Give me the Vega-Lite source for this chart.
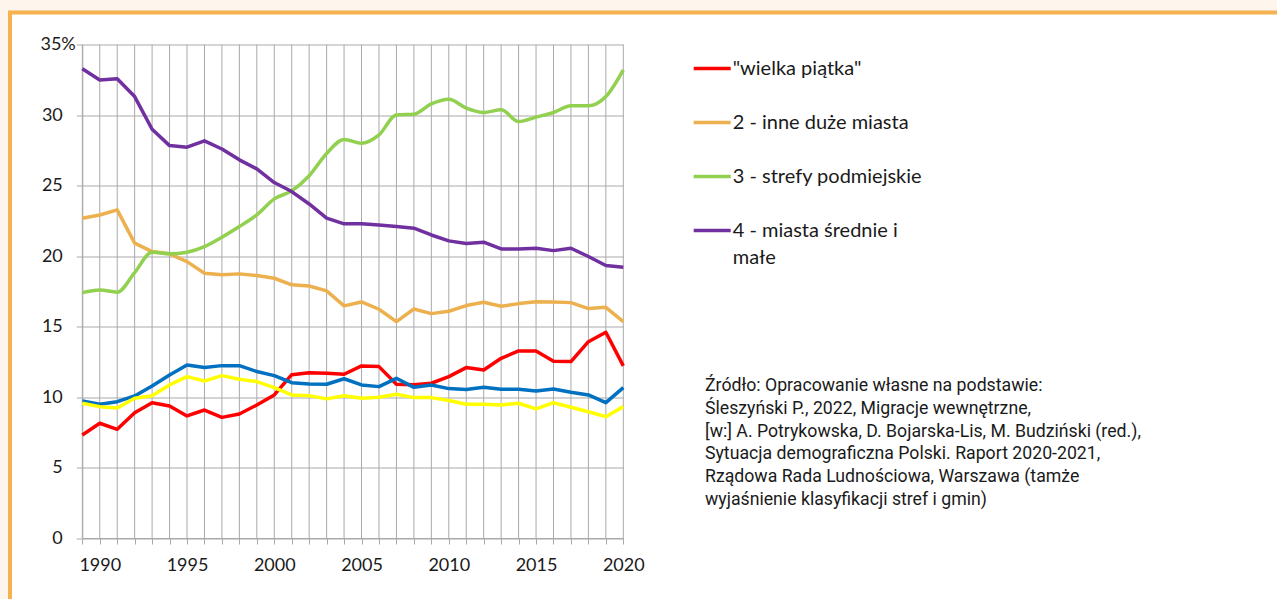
{
  "$schema": "https://vega.github.io/schema/vega-lite/v6.json",
  "width": 1272,
  "height": 592,
  "autosize": {"type": "none"},
  "padding": {"left": 10, "top": 12.5, "right": 0, "bottom": 0},
  "background": "#fef6ec",
  "config": {
    "view": {"fill": "white", "stroke": "#f6b24f", "strokeWidth": 4},
    "font": "Lato",
    "axis": {
      "gridColor": "#a9a9a9",
      "gridWidth": 1,
      "domainColor": "#a9a9a9",
      "domainWidth": 1,
      "tickColor": "#a9a9a9",
      "tickWidth": 1,
      "tickSize": 6,
      "labelFont": "Lato",
      "labelFontSize": 18,
      "labelColor": "#1a1a1a",
      "labelOverlap": false,
      "labelFlush": false
    }
  },
  "title": {
    "text": [
      "Źródło: Opracowanie własne na podstawie:",
      "Śleszyński P., 2022, Migracje wewnętrzne,",
      "[w:] A. Potrykowska, D. Bojarska-Lis, M. Budziński (red.),",
      "Sytuacja demograficzna Polski. Raport 2020-2021,",
      "Rządowa Rada Ludnościowa, Warszawa (tamże",
      "wyjaśnienie klasyfikacji stref i gmin)"
    ],
    "orient": "top",
    "anchor": "start",
    "frame": "group",
    "offset": 0,
    "baseline": "top",
    "align": "left",
    "dx": 695,
    "dy": 496,
    "font": "Roboto",
    "fontSize": 17.7,
    "fontWeight": "normal",
    "color": "#1a1a1a",
    "lineHeight": 22.7
  },
  "data": {
    "values": [
      {"year": 1989, "series": "\"wielka piątka\"", "value": 7.31},
      {"year": 1990, "series": "\"wielka piątka\"", "value": 8.14},
      {"year": 1991, "series": "\"wielka piątka\"", "value": 7.71},
      {"year": 1992, "series": "\"wielka piątka\"", "value": 8.89},
      {"year": 1993, "series": "\"wielka piątka\"", "value": 9.6},
      {"year": 1994, "series": "\"wielka piątka\"", "value": 9.37},
      {"year": 1995, "series": "\"wielka piątka\"", "value": 8.66},
      {"year": 1996, "series": "\"wielka piątka\"", "value": 9.08},
      {"year": 1997, "series": "\"wielka piątka\"", "value": 8.56},
      {"year": 1998, "series": "\"wielka piątka\"", "value": 8.8},
      {"year": 1999, "series": "\"wielka piątka\"", "value": 9.44},
      {"year": 2000, "series": "\"wielka piątka\"", "value": 10.15},
      {"year": 2001, "series": "\"wielka piątka\"", "value": 11.59},
      {"year": 2002, "series": "\"wielka piątka\"", "value": 11.73},
      {"year": 2003, "series": "\"wielka piątka\"", "value": 11.69},
      {"year": 2004, "series": "\"wielka piątka\"", "value": 11.62},
      {"year": 2005, "series": "\"wielka piątka\"", "value": 12.21},
      {"year": 2006, "series": "\"wielka piątka\"", "value": 12.16},
      {"year": 2007, "series": "\"wielka piątka\"", "value": 10.91},
      {"year": 2008, "series": "\"wielka piątka\"", "value": 10.88},
      {"year": 2009, "series": "\"wielka piątka\"", "value": 10.98},
      {"year": 2010, "series": "\"wielka piątka\"", "value": 11.45},
      {"year": 2011, "series": "\"wielka piątka\"", "value": 12.09},
      {"year": 2012, "series": "\"wielka piątka\"", "value": 11.92},
      {"year": 2013, "series": "\"wielka piątka\"", "value": 12.75},
      {"year": 2014, "series": "\"wielka piątka\"", "value": 13.27},
      {"year": 2015, "series": "\"wielka piątka\"", "value": 13.27},
      {"year": 2016, "series": "\"wielka piątka\"", "value": 12.54},
      {"year": 2017, "series": "\"wielka piątka\"", "value": 12.52},
      {"year": 2018, "series": "\"wielka piątka\"", "value": 13.93},
      {"year": 2019, "series": "\"wielka piątka\"", "value": 14.6},
      {"year": 2020, "series": "\"wielka piątka\"", "value": 12.21},
      {"year": 1989, "series": "2 - inne duże miasta", "value": 22.69},
      {"year": 1990, "series": "2 - inne duże miasta", "value": 22.92},
      {"year": 1991, "series": "2 - inne duże miasta", "value": 23.28},
      {"year": 1992, "series": "2 - inne duże miasta", "value": 20.92},
      {"year": 1993, "series": "2 - inne duże miasta", "value": 20.32},
      {"year": 1994, "series": "2 - inne duże miasta", "value": 20.16},
      {"year": 1995, "series": "2 - inne duże miasta", "value": 19.61},
      {"year": 1996, "series": "2 - inne duże miasta", "value": 18.79},
      {"year": 1997, "series": "2 - inne duże miasta", "value": 18.67},
      {"year": 1998, "series": "2 - inne duże miasta", "value": 18.74},
      {"year": 1999, "series": "2 - inne duże miasta", "value": 18.62},
      {"year": 2000, "series": "2 - inne duże miasta", "value": 18.43},
      {"year": 2001, "series": "2 - inne duże miasta", "value": 17.96},
      {"year": 2002, "series": "2 - inne duże miasta", "value": 17.88},
      {"year": 2003, "series": "2 - inne duże miasta", "value": 17.53},
      {"year": 2004, "series": "2 - inne duże miasta", "value": 16.47},
      {"year": 2005, "series": "2 - inne duże miasta", "value": 16.75},
      {"year": 2006, "series": "2 - inne duże miasta", "value": 16.23},
      {"year": 2007, "series": "2 - inne duże miasta", "value": 15.35},
      {"year": 2008, "series": "2 - inne duże miasta", "value": 16.25},
      {"year": 2009, "series": "2 - inne duże miasta", "value": 15.92},
      {"year": 2010, "series": "2 - inne duże miasta", "value": 16.09},
      {"year": 2011, "series": "2 - inne duże miasta", "value": 16.49},
      {"year": 2012, "series": "2 - inne duże miasta", "value": 16.73},
      {"year": 2013, "series": "2 - inne duże miasta", "value": 16.44},
      {"year": 2014, "series": "2 - inne duże miasta", "value": 16.63},
      {"year": 2015, "series": "2 - inne duże miasta", "value": 16.77},
      {"year": 2016, "series": "2 - inne duże miasta", "value": 16.75},
      {"year": 2017, "series": "2 - inne duże miasta", "value": 16.7},
      {"year": 2018, "series": "2 - inne duże miasta", "value": 16.28},
      {"year": 2019, "series": "2 - inne duże miasta", "value": 16.37},
      {"year": 2020, "series": "2 - inne duże miasta", "value": 15.35},
      {"year": 1989, "series": "3 - strefy podmiejskie", "value": 17.41},
      {"year": 1990, "series": "3 - strefy podmiejskie", "value": 17.6},
      {"year": 1991, "series": "3 - strefy podmiejskie", "value": 17.44},
      {"year": 1992, "series": "3 - strefy podmiejskie", "value": 18.83},
      {"year": 1993, "series": "3 - strefy podmiejskie", "value": 20.28},
      {"year": 1994, "series": "3 - strefy podmiejskie", "value": 20.16},
      {"year": 1995, "series": "3 - strefy podmiejskie", "value": 20.28},
      {"year": 1996, "series": "3 - strefy podmiejskie", "value": 20.68},
      {"year": 1997, "series": "3 - strefy podmiejskie", "value": 21.34},
      {"year": 1998, "series": "3 - strefy podmiejskie", "value": 22.1},
      {"year": 1999, "series": "3 - strefy podmiejskie", "value": 22.92},
      {"year": 2000, "series": "3 - strefy podmiejskie", "value": 24.06},
      {"year": 2001, "series": "3 - strefy podmiejskie", "value": 24.63},
      {"year": 2002, "series": "3 - strefy podmiejskie", "value": 25.7},
      {"year": 2003, "series": "3 - strefy podmiejskie", "value": 27.28},
      {"year": 2004, "series": "3 - strefy podmiejskie", "value": 28.28},
      {"year": 2005, "series": "3 - strefy podmiejskie", "value": 28.01},
      {"year": 2006, "series": "3 - strefy podmiejskie", "value": 28.6},
      {"year": 2007, "series": "3 - strefy podmiejskie", "value": 30.02},
      {"year": 2008, "series": "3 - strefy podmiejskie", "value": 30.07},
      {"year": 2009, "series": "3 - strefy podmiejskie", "value": 30.8},
      {"year": 2010, "series": "3 - strefy podmiejskie", "value": 31.13},
      {"year": 2011, "series": "3 - strefy podmiejskie", "value": 30.5},
      {"year": 2012, "series": "3 - strefy podmiejskie", "value": 30.19},
      {"year": 2013, "series": "3 - strefy podmiejskie", "value": 30.38},
      {"year": 2014, "series": "3 - strefy podmiejskie", "value": 29.55},
      {"year": 2015, "series": "3 - strefy podmiejskie", "value": 29.86},
      {"year": 2016, "series": "3 - strefy podmiejskie", "value": 30.19},
      {"year": 2017, "series": "3 - strefy podmiejskie", "value": 30.66},
      {"year": 2018, "series": "3 - strefy podmiejskie", "value": 30.66},
      {"year": 2019, "series": "3 - strefy podmiejskie", "value": 31.32},
      {"year": 2020, "series": "3 - strefy podmiejskie", "value": 33.22},
      {"year": 1989, "series": "4 - miasta średnie i małe", "value": 33.29},
      {"year": 1990, "series": "4 - miasta średnie i małe", "value": 32.5},
      {"year": 1991, "series": "4 - miasta średnie i małe", "value": 32.58},
      {"year": 1992, "series": "4 - miasta średnie i małe", "value": 31.32},
      {"year": 1993, "series": "4 - miasta średnie i małe", "value": 29.0},
      {"year": 1994, "series": "4 - miasta średnie i małe", "value": 27.84},
      {"year": 1995, "series": "4 - miasta średnie i małe", "value": 27.73},
      {"year": 1996, "series": "4 - miasta średnie i małe", "value": 28.18},
      {"year": 1997, "series": "4 - miasta średnie i małe", "value": 27.6},
      {"year": 1998, "series": "4 - miasta średnie i małe", "value": 26.83},
      {"year": 1999, "series": "4 - miasta średnie i małe", "value": 26.19},
      {"year": 2000, "series": "4 - miasta średnie i małe", "value": 25.22},
      {"year": 2001, "series": "4 - miasta średnie i małe", "value": 24.58},
      {"year": 2002, "series": "4 - miasta średnie i małe", "value": 23.7},
      {"year": 2003, "series": "4 - miasta średnie i małe", "value": 22.69},
      {"year": 2004, "series": "4 - miasta średnie i małe", "value": 22.29},
      {"year": 2005, "series": "4 - miasta średnie i małe", "value": 22.29},
      {"year": 2006, "series": "4 - miasta średnie i małe", "value": 22.21},
      {"year": 2007, "series": "4 - miasta średnie i małe", "value": 22.1},
      {"year": 2008, "series": "4 - miasta średnie i małe", "value": 21.98},
      {"year": 2009, "series": "4 - miasta średnie i małe", "value": 21.5},
      {"year": 2010, "series": "4 - miasta średnie i małe", "value": 21.08},
      {"year": 2011, "series": "4 - miasta średnie i małe", "value": 20.89},
      {"year": 2012, "series": "4 - miasta średnie i małe", "value": 20.99},
      {"year": 2013, "series": "4 - miasta średnie i małe", "value": 20.51},
      {"year": 2014, "series": "4 - miasta średnie i małe", "value": 20.51},
      {"year": 2015, "series": "4 - miasta średnie i małe", "value": 20.56},
      {"year": 2016, "series": "4 - miasta średnie i małe", "value": 20.39},
      {"year": 2017, "series": "4 - miasta średnie i małe", "value": 20.56},
      {"year": 2018, "series": "4 - miasta średnie i małe", "value": 19.97},
      {"year": 2019, "series": "4 - miasta średnie i małe", "value": 19.33},
      {"year": 2020, "series": "4 - miasta średnie i małe", "value": 19.21},
      {"year": 1989, "series": "seria 5", "value": 9.72},
      {"year": 1990, "series": "seria 5", "value": 9.49},
      {"year": 1991, "series": "seria 5", "value": 9.67},
      {"year": 1992, "series": "seria 5", "value": 10.08},
      {"year": 1993, "series": "seria 5", "value": 10.79},
      {"year": 1994, "series": "seria 5", "value": 11.57},
      {"year": 1995, "series": "seria 5", "value": 12.28},
      {"year": 1996, "series": "seria 5", "value": 12.09},
      {"year": 1997, "series": "seria 5", "value": 12.23},
      {"year": 1998, "series": "seria 5", "value": 12.23},
      {"year": 1999, "series": "seria 5", "value": 11.81},
      {"year": 2000, "series": "seria 5", "value": 11.52},
      {"year": 2001, "series": "seria 5", "value": 11.02},
      {"year": 2002, "series": "seria 5", "value": 10.93},
      {"year": 2003, "series": "seria 5", "value": 10.91},
      {"year": 2004, "series": "seria 5", "value": 11.3},
      {"year": 2005, "series": "seria 5", "value": 10.86},
      {"year": 2006, "series": "seria 5", "value": 10.74},
      {"year": 2007, "series": "seria 5", "value": 11.33},
      {"year": 2008, "series": "seria 5", "value": 10.69},
      {"year": 2009, "series": "seria 5", "value": 10.86},
      {"year": 2010, "series": "seria 5", "value": 10.6},
      {"year": 2011, "series": "seria 5", "value": 10.53},
      {"year": 2012, "series": "seria 5", "value": 10.69},
      {"year": 2013, "series": "seria 5", "value": 10.55},
      {"year": 2014, "series": "seria 5", "value": 10.55},
      {"year": 2015, "series": "seria 5", "value": 10.43},
      {"year": 2016, "series": "seria 5", "value": 10.57},
      {"year": 2017, "series": "seria 5", "value": 10.34},
      {"year": 2018, "series": "seria 5", "value": 10.15},
      {"year": 2019, "series": "seria 5", "value": 9.6},
      {"year": 2020, "series": "seria 5", "value": 10.67},
      {"year": 1989, "series": "seria 6", "value": 9.56},
      {"year": 1990, "series": "seria 6", "value": 9.32},
      {"year": 1991, "series": "seria 6", "value": 9.23},
      {"year": 1992, "series": "seria 6", "value": 9.91},
      {"year": 1993, "series": "seria 6", "value": 10.1},
      {"year": 1994, "series": "seria 6", "value": 10.86},
      {"year": 1995, "series": "seria 6", "value": 11.45},
      {"year": 1996, "series": "seria 6", "value": 11.14},
      {"year": 1997, "series": "seria 6", "value": 11.52},
      {"year": 1998, "series": "seria 6", "value": 11.26},
      {"year": 1999, "series": "seria 6", "value": 11.1},
      {"year": 2000, "series": "seria 6", "value": 10.67},
      {"year": 2001, "series": "seria 6", "value": 10.15},
      {"year": 2002, "series": "seria 6", "value": 10.1},
      {"year": 2003, "series": "seria 6", "value": 9.87},
      {"year": 2004, "series": "seria 6", "value": 10.09},
      {"year": 2005, "series": "seria 6", "value": 9.91},
      {"year": 2006, "series": "seria 6", "value": 9.98},
      {"year": 2007, "series": "seria 6", "value": 10.2},
      {"year": 2008, "series": "seria 6", "value": 9.96},
      {"year": 2009, "series": "seria 6", "value": 9.96},
      {"year": 2010, "series": "seria 6", "value": 9.75},
      {"year": 2011, "series": "seria 6", "value": 9.49},
      {"year": 2012, "series": "seria 6", "value": 9.49},
      {"year": 2013, "series": "seria 6", "value": 9.44},
      {"year": 2014, "series": "seria 6", "value": 9.56},
      {"year": 2015, "series": "seria 6", "value": 9.16},
      {"year": 2016, "series": "seria 6", "value": 9.6},
      {"year": 2017, "series": "seria 6", "value": 9.28},
      {"year": 2018, "series": "seria 6", "value": 8.96},
      {"year": 2019, "series": "seria 6", "value": 8.61},
      {"year": 2020, "series": "seria 6", "value": 9.32}
    ]
  },
  "encoding": {
    "x": {
      "field": "year",
      "type": "quantitative",
      "scale": {"domain": [1989, 2020], "range": [72.3, 613.3], "nice": false, "zero": false},
      "axis": {
        "title": null,
        "grid": false,
        "values": [1989, 1990, 1991, 1992, 1993, 1994, 1995, 1996, 1997, 1998, 1999, 2000, 2001, 2002, 2003, 2004, 2005, 2006, 2007, 2008, 2009, 2010, 2011, 2012, 2013, 2014, 2015, 2016, 2017, 2018, 2019, 2020],
        "format": "d",
        "labelExpr": "datum.value % 5 == 0 ? datum.label : ''",
        "offset": -66.5,
        "labelPadding": 12
      }
    },
    "y": {
      "field": "value",
      "type": "quantitative",
      "scale": {"domain": [0, 35], "range": [525.5, 32.2], "nice": false, "zero": true},
      "axis": {
        "title": null,
        "grid": true,
        "values": [0, 5, 10, 15, 20, 25, 30, 35],
        "offset": -72.3,
        "labelExpr": "datum.value == 35 ? '35%' : datum.label",
        "labelPadding": {"condition": {"test": "datum.value == 35", "value": 1}, "value": 14}
      }
    },
    "color": {
      "field": "series",
      "type": "nominal",
      "scale": {
        "domain": ["\"wielka piątka\"", "2 - inne duże miasta", "3 - strefy podmiejskie", "4 - miasta średnie i małe", "seria 5", "seria 6"],
        "range": ["#ff0000", "#ecb14e", "#92d050", "#7030a0", "#0070c0", "#ffff00"]
      },
      "legend": {
        "values": ["\"wielka piątka\"", "2 - inne duże miasta", "3 - strefy podmiejskie", "4 - miasta średnie i małe"],
        "title": null,
        "orient": "none",
        "legendX": 681.7,
        "legendY": 35.5,
        "padding": 0,
        "symbolType": "stroke",
        "symbolSize": 1369,
        "symbolStrokeWidth": 3.5,
        "labelFont": "Lato",
        "labelFontSize": 20,
        "labelColor": "#1a1a1a",
        "labelOffset": 0,
        "labelLimit": 400,
        "rowPadding": 23,
        "labelExpr": "datum.label == '4 - miasta średnie i małe' ? ['4 - miasta średnie i', 'małe'] : datum.label",
        "encode": {"labels": {"update": {"lineHeight": {"value": 27}}}}
      }
    }
  },
  "layer": [
    {
      "transform": [{"filter": {"field": "series", "equal": "seria 6"}}],
      "mark": {"type": "rule", "strokeWidth": 1},
      "encoding": {
        "y": {"datum": 0},
        "y2": {"datum": 35},
        "color": {"value": "#a9a9a9"}
      }
    },
    {
      "transform": [{"filter": {"field": "series", "oneOf": ["\"wielka piątka\"", "2 - inne duże miasta"]}}],
      "mark": {"type": "line", "strokeWidth": 3.5, "strokeJoin": "round"}
    },
    {
      "transform": [{"filter": {"field": "series", "oneOf": ["3 - strefy podmiejskie"]}}],
      "mark": {"type": "line", "strokeWidth": 3.5, "strokeJoin": "round", "interpolate": "monotone"}
    },
    {
      "transform": [{"filter": {"field": "series", "oneOf": ["4 - miasta średnie i małe", "seria 5", "seria 6"]}}],
      "mark": {"type": "line", "strokeWidth": 3.5, "strokeJoin": "round"}
    }
  ]
}
